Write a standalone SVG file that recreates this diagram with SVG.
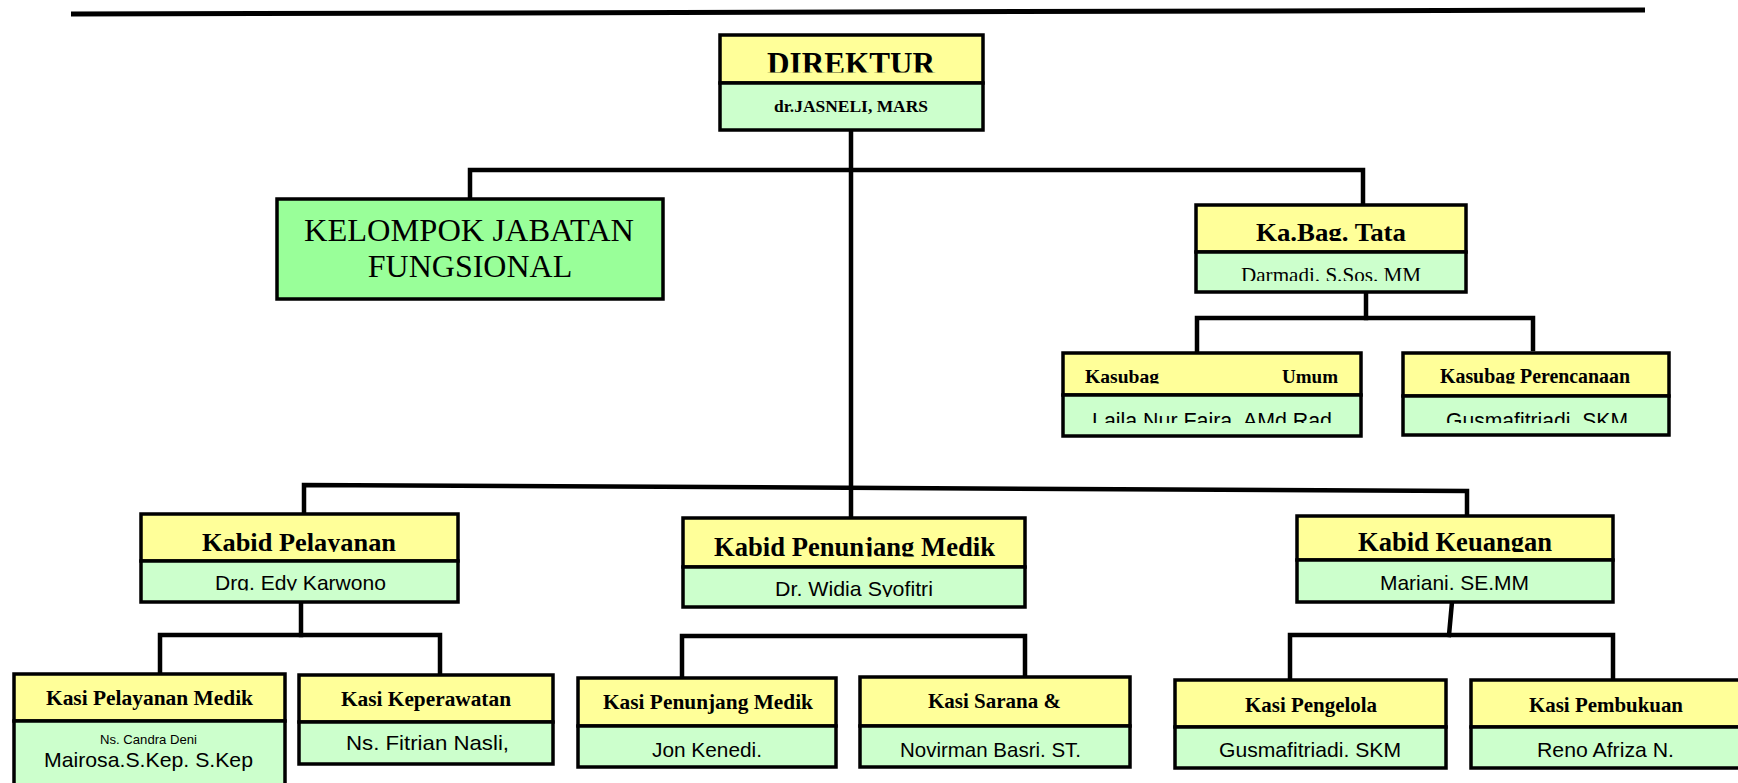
<svg xmlns="http://www.w3.org/2000/svg" width="1738" height="783" viewBox="0 0 1738 783">
<style>
.y{fill:#ffff99;stroke:#000;stroke-width:3.5}
.g{fill:#ccffcc;stroke:#000;stroke-width:3.5}
.k{fill:#99ff99;stroke:#000;stroke-width:3.5}
.h{font-family:"Liberation Serif","Times New Roman",serif;font-weight:bold;fill:#000}
.s{font-family:"Liberation Serif","Times New Roman",serif;fill:#000}
.n{font-family:"Liberation Sans",Arial,sans-serif;fill:#000}
.c{stroke:#000;stroke-width:4.5;fill:none;stroke-linejoin:miter;stroke-linecap:square}
</style>
<defs>
<clipPath id="c1" clipPathUnits="userSpaceOnUse"><rect x="720" y="35" width="263" height="37.5"/></clipPath>
<clipPath id="c2" clipPathUnits="userSpaceOnUse"><rect x="1196" y="205" width="270" height="36"/></clipPath>
<clipPath id="c3" clipPathUnits="userSpaceOnUse"><rect x="1196" y="252" width="270" height="29"/></clipPath>
<clipPath id="c4" clipPathUnits="userSpaceOnUse"><rect x="1063" y="353" width="606" height="30.5"/></clipPath>
<clipPath id="c5" clipPathUnits="userSpaceOnUse"><rect x="1063" y="395" width="606" height="28"/></clipPath>
<clipPath id="c6" clipPathUnits="userSpaceOnUse"><rect x="141" y="514" width="317" height="38"/></clipPath>
<clipPath id="c7" clipPathUnits="userSpaceOnUse"><rect x="141" y="561" width="317" height="29.5"/></clipPath>
<clipPath id="c8" clipPathUnits="userSpaceOnUse"><rect x="683" y="518" width="342" height="38.5"/></clipPath>
<clipPath id="c9" clipPathUnits="userSpaceOnUse"><rect x="683" y="567" width="342" height="30"/></clipPath>
<clipPath id="c10" clipPathUnits="userSpaceOnUse"><rect x="1297" y="516" width="316" height="36"/></clipPath>
<clipPath id="c11" clipPathUnits="userSpaceOnUse"><rect x="1297" y="560" width="316" height="31"/></clipPath>
</defs>
<rect width="1738" height="783" fill="#fff"/>
<g id="connectors">
<line x1="71" y1="14" x2="1645" y2="10" stroke="#000" stroke-width="5"/>
<line class="c" x1="851" y1="130" x2="851" y2="518"/>
<path class="c" d="M470 199 V170 H1363 V205" stroke-width="5"/>
<path class="c" d="M1197 353 V318 H1533 V349"/>
<line class="c" x1="1366" y1="292" x2="1366" y2="318"/>
<path class="c" d="M304 514 V485 L1467 491 V516"/>
<path class="c" d="M160 674 V635 H440 V675"/>
<line class="c" x1="301" y1="602" x2="301" y2="635"/>
<path class="c" d="M682 678 V636 H1025 V677"/>
<path class="c" d="M1290 680 V635 H1613 V680"/>
<line class="c" x1="1452" y1="602" x2="1449" y2="635"/>
</g>
<g id="direktur">
<rect class="y" x="720" y="35" width="263" height="48"/>
<rect class="g" x="720" y="83" width="263" height="47"/>
<text class="h" x="767" y="73.5" font-size="31" textLength="168" lengthAdjust="spacingAndGlyphs" clip-path="url(#c1)">DIREKTUR</text>
<text class="h" x="774" y="112" font-size="17" textLength="154" lengthAdjust="spacingAndGlyphs">dr.JASNELI, MARS</text>
</g>
<g id="kelompok">
<rect class="k" x="277" y="199" width="386" height="100"/>
<text class="s" x="304" y="241" font-size="32" textLength="330" lengthAdjust="spacingAndGlyphs">KELOMPOK JABATAN</text>
<text class="s" x="470" y="277" font-size="32" text-anchor="middle">FUNGSIONAL</text>
</g>
<g id="kabag">
<rect class="y" x="1196" y="205" width="270" height="47"/>
<rect class="g" x="1196" y="252" width="270" height="40"/>
<text class="h" x="1256" y="240.5" font-size="26" textLength="150" lengthAdjust="spacingAndGlyphs" clip-path="url(#c2)">Ka.Bag. Tata</text>
<text class="s" x="1241" y="281.5" font-size="21" textLength="180" lengthAdjust="spacingAndGlyphs" clip-path="url(#c3)">Darmadi. S.Sos. MM</text>
</g>
<g id="kasubag-umum">
<rect class="y" x="1063" y="353" width="298" height="42"/>
<rect class="g" x="1063" y="395" width="298" height="41"/>
<text class="h" x="1085" y="383" font-size="19.5" textLength="74" lengthAdjust="spacingAndGlyphs" clip-path="url(#c4)">Kasubag</text>
<text class="h" x="1282" y="383" font-size="19.5" textLength="56" lengthAdjust="spacingAndGlyphs" clip-path="url(#c4)">Umum</text>
<text class="n" x="1092" y="428" font-size="22" textLength="240" lengthAdjust="spacingAndGlyphs" clip-path="url(#c5)">Laila Nur Fajra, AMd Rad</text>
</g>
<g id="kasubag-perencanaan">
<rect class="y" x="1403" y="353" width="266" height="43"/>
<rect class="g" x="1403" y="396" width="266" height="39"/>
<text class="h" x="1440" y="383" font-size="20" textLength="190" lengthAdjust="spacingAndGlyphs" clip-path="url(#c4)">Kasubag Perencanaan</text>
<text class="n" x="1446" y="427.5" font-size="21.5" textLength="182" lengthAdjust="spacingAndGlyphs" clip-path="url(#c5)">Gusmafitriadi, SKM</text>
</g>
<g id="kabid-pelayanan">
<rect class="y" x="141" y="514" width="317" height="47"/>
<rect class="g" x="141" y="561" width="317" height="41"/>
<text class="h" x="202" y="550.5" font-size="26" textLength="194" lengthAdjust="spacingAndGlyphs" clip-path="url(#c6)">Kabid Pelayanan</text>
<text class="n" x="215" y="590" font-size="21" textLength="171" lengthAdjust="spacingAndGlyphs" clip-path="url(#c7)">Drg. Edy Karwono</text>
</g>
<g id="kabid-penunjang">
<rect class="y" x="683" y="518" width="342" height="49"/>
<rect class="g" x="683" y="567" width="342" height="40"/>
<text class="h" x="714" y="555.5" font-size="26.5" textLength="281" lengthAdjust="spacingAndGlyphs" clip-path="url(#c8)">Kabid Penunjang Medik</text>
<text class="n" x="775" y="596" font-size="21" textLength="158" lengthAdjust="spacingAndGlyphs" clip-path="url(#c9)">Dr. Widia Syofitri</text>
</g>
<g id="kabid-keuangan">
<rect class="y" x="1297" y="516" width="316" height="44"/>
<rect class="g" x="1297" y="560" width="316" height="42"/>
<text class="h" x="1358" y="551" font-size="26.5" textLength="194" lengthAdjust="spacingAndGlyphs" clip-path="url(#c10)">Kabid Keuangan</text>
<text class="n" x="1380" y="590" font-size="21" textLength="149" lengthAdjust="spacingAndGlyphs" clip-path="url(#c11)">Mariani. SE.MM</text>
</g>
<g id="kasi-pelayanan-medik">
<rect class="y" x="14" y="674" width="271" height="47"/>
<rect class="g" x="14" y="721" width="271" height="70"/>
<text class="h" x="46" y="705" font-size="20.5" textLength="207" lengthAdjust="spacingAndGlyphs">Kasi Pelayanan Medik</text>
<text class="n" x="100" y="744" font-size="13" textLength="97" lengthAdjust="spacingAndGlyphs">Ns. Candra Deni</text>
<text class="n" x="44" y="767" font-size="21" textLength="209" lengthAdjust="spacingAndGlyphs">Mairosa.S.Kep. S.Kep</text>
</g>
<g id="kasi-keperawatan">
<rect class="y" x="299" y="675" width="254" height="47"/>
<rect class="g" x="299" y="722" width="254" height="42"/>
<text class="h" x="341" y="706" font-size="20.5" textLength="170" lengthAdjust="spacingAndGlyphs">Kasi Keperawatan</text>
<text class="n" x="346" y="750" font-size="21" textLength="163" lengthAdjust="spacingAndGlyphs">Ns. Fitrian Nasli,</text>
</g>
<g id="kasi-penunjang-medik">
<rect class="y" x="578" y="678" width="258" height="48"/>
<rect class="g" x="578" y="726" width="258" height="41"/>
<text class="h" x="603" y="709" font-size="21" textLength="210" lengthAdjust="spacingAndGlyphs">Kasi Penunjang Medik</text>
<text class="n" x="652" y="757" font-size="21" textLength="110" lengthAdjust="spacingAndGlyphs">Jon Kenedi.</text>
</g>
<g id="kasi-sarana">
<rect class="y" x="860" y="677" width="270" height="49"/>
<rect class="g" x="860" y="726" width="270" height="41"/>
<text class="h" x="928" y="708" font-size="21" textLength="133" lengthAdjust="spacingAndGlyphs">Kasi Sarana &amp;</text>
<text class="n" x="900" y="757" font-size="21" textLength="181" lengthAdjust="spacingAndGlyphs">Novirman Basri. ST.</text>
</g>
<g id="kasi-pengelola">
<rect class="y" x="1175" y="680" width="271" height="47"/>
<rect class="g" x="1175" y="727" width="271" height="41"/>
<text class="h" x="1245" y="712" font-size="21" textLength="132" lengthAdjust="spacingAndGlyphs">Kasi Pengelola</text>
<text class="n" x="1219" y="757" font-size="21" textLength="182" lengthAdjust="spacingAndGlyphs">Gusmafitriadi. SKM</text>
</g>
<g id="kasi-pembukuan">
<rect class="y" x="1471" y="680" width="275" height="47"/>
<rect class="g" x="1471" y="727" width="275" height="41"/>
<text class="h" x="1529" y="712" font-size="21" textLength="154" lengthAdjust="spacingAndGlyphs">Kasi Pembukuan</text>
<text class="n" x="1537" y="757" font-size="21" textLength="137" lengthAdjust="spacingAndGlyphs">Reno Afriza N.</text>
</g>
</svg>
